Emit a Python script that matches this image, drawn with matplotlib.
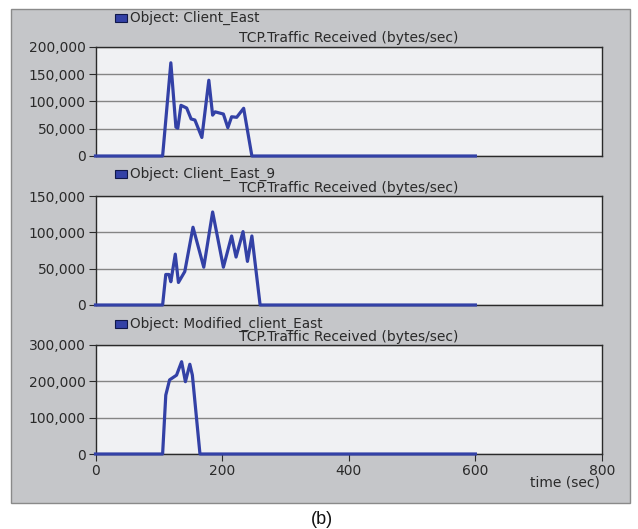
import matplotlib.pyplot as plt
from matplotlib.patches import Rectangle
from matplotlib.ticker import FuncFormatter

# TCP traffic received (bytes/sec) per client, time in seconds
t_east = [0, 106, 119, 127, 130, 135, 144, 151, 157, 168, 179, 185, 189, 202, 209, 215, 223, 234, 247, 600]
v_east = [0, 0, 171000, 53000, 51000, 93000, 88000, 68000, 66000, 34000, 139000, 75000, 81000, 77000, 52000, 72000, 71000, 87500, 0, 0]

t_east9 = [0, 106, 111, 116, 119, 126, 131, 141, 154, 171, 185, 202, 215, 222, 233, 240, 247, 260, 600]
v_east9 = [0, 0, 42000, 42000, 32000, 70000, 31000, 46000, 107000, 52000, 128000, 52000, 95000, 66000, 101000, 60000, 95000, 0, 0]

t_mod = [0, 106, 111, 117, 128, 136, 142, 149, 153, 165, 600]
v_mod = [0, 0, 162000, 204000, 217000, 254000, 199000, 247000, 217000, 0, 0]

panels = [
    ("Object: Client_East", t_east, v_east, [0, 50000, 100000, 150000, 200000]),
    ("Object: Client_East_9", t_east9, v_east9, [0, 50000, 100000, 150000]),
    ("Object: Modified_client_East", t_mod, v_mod, [0, 100000, 200000, 300000]),
]

W, H = 638, 529
fig = plt.figure(figsize=(W / 100, H / 100), dpi=100)
fig.patch.set_facecolor("white")

panel_bg = "#c5c6c9"
plot_bg = "#f0f1f3"
line_col = "#3341a6"
font = "DejaVu Sans"
text_col = "#2a2a2a"

# grey backdrop behind the three plots
fig.add_artist(Rectangle((11 / W, 1 - 503 / H), (630 - 11) / W, (503 - 9) / H,
                         transform=fig.transFigure, facecolor=panel_bg,
                         edgecolor="#8a8a8a", lw=1, zorder=0))

ax_left, ax_right = 95.5, 602
tops = [47, 196, 345]
legend_y = [18, 174, 324]
title_y = [38, 188, 337]
ax_h = 109

fmt = FuncFormatter(lambda v, p: f"{int(v):,}")

for i, (name, t, v, yt) in enumerate(panels):
    top = tops[i]
    ax = fig.add_axes([ax_left / W, 1 - (top + ax_h) / H, (ax_right - ax_left) / W, ax_h / H])
    ax.set_facecolor(plot_bg)
    ax.plot(t, v, color=line_col, lw=2.3, clip_on=False, zorder=3, solid_joinstyle="round")
    ax.set_xlim(0, 800)
    ax.set_ylim(0, yt[-1])
    ax.set_yticks(yt)
    ax.yaxis.set_major_formatter(fmt)
    ax.grid(axis="y", color="#858585", lw=1)
    ax.set_axisbelow(True)
    for s in ax.spines.values():
        s.set_color("#2a2a2a")
        s.set_linewidth(1.0)
    ax.tick_params(axis="y", direction="out", length=5, width=0.8, color="#2a2a2a",
                   labelsize=10, labelcolor=text_col, pad=2)
    for lab in ax.get_yticklabels():
        lab.set_family(font)
    if i < 2:
        ax.set_xticks([])
    else:
        ax.set_xticks([0, 200, 400, 600, 800])
        ax.tick_params(axis="x", direction="out", length=5, width=0.8, color="#2a2a2a",
                       labelsize=10, labelcolor=text_col, pad=2)
        for lab in ax.get_xticklabels():
            lab.set_family(font)

    # legend entry: small square swatch plus object name
    fig.add_artist(Rectangle((115 / W, 1 - (legend_y[i] + 4) / H), 12 / W, 8 / H,
                             transform=fig.transFigure, facecolor=line_col,
                             edgecolor="#10184a", lw=0.8))
    fig.text(130 / W, 1 - legend_y[i] / H, name, ha="left", va="center",
             fontsize=9.8, family=font, color=text_col)
    fig.text((ax_left + ax_right) / 2 / W, 1 - title_y[i] / H,
             "TCP.Traffic Received (bytes/sec)", ha="center", va="center",
             fontsize=10, family=font, color=text_col)

fig.text(600 / W, 1 - 483 / H, "time (sec)", ha="right", va="center",
         fontsize=10, family=font, color=text_col)
fig.text(322 / W, 1 - 519 / H, "(b)", ha="center", va="center",
         fontsize=13, family="Liberation Sans", color="#111111")

fig.savefig("out.png", dpi=100)
